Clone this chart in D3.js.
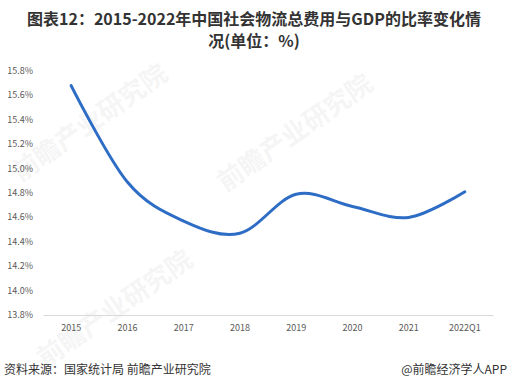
<!DOCTYPE html>
<html>
<head>
<meta charset="utf-8">
<script src="https://cdn.jsdelivr.net/npm/d3@7"></script>
<style>
  body { margin: 0; background: #fff; }
  svg { display: block; font-family: "Noto Sans CJK SC", "Noto Sans", sans-serif; }
</style>
</head>
<body>
<svg id="chart" width="509" height="388"></svg>
<script>
// data
const years = ["2015", "2016", "2017", "2018", "2019", "2020", "2021", "2022Q1"]
const ratio = [15.68, 14.89, 14.57, 14.47, 14.79, 14.69, 14.60, 14.81]
const yTicks = [13.8, 14.0, 14.2, 14.4, 14.6, 14.8, 15.0, 15.2, 15.4, 15.6, 15.8]

const svg = d3.select("#chart")

// title, two lines
svg.append("text")
    .attr("x", 254).attr("y", 25)
    .attr("text-anchor", "middle")
    .style("font-size", "16px").style("font-weight", "bold").style("fill", "#333")
    .text("图表12：2015-2022年中国社会物流总费用与GDP的比率变化情")
svg.append("text")
    .attr("x", 254).attr("y", 47)
    .attr("text-anchor", "middle")
    .style("font-size", "16px").style("font-weight", "bold").style("fill", "#333")
    .text("况(单位：%)")

// faint watermark
const wm = [[95, 130], [300, 140], [120, 316]]
wm.forEach(([x, y]) => {
    svg.append("text")
        .attr("transform", `translate(${x},${y}) rotate(-35)`)
        .attr("text-anchor", "middle")
        .style("font-size", "26px").style("font-weight", "bold")
        .style("fill", "#000").style("opacity", 0.035)
        .text("前瞻产业研究院")
})

const x = d3.scaleBand().domain(years).range([43, 493])
const y = d3.scaleLinear().domain([13.8, 15.8]).range([315, 71])

// y axis labels (no line)
svg.append("g").selectAll("text")
    .data(yTicks)
    .join("text")
    .attr("x", 33)
    .attr("y", d => y(d) + 3)
    .attr("text-anchor", "end")
    .style("font-size", "9px").style("fill", "#595959")
    .text(d => d.toFixed(1) + "%")

// x axis
const xAxis = svg.append("g")
    .attr("transform", "translate(0,315)")
    .call(d3.axisBottom(x).tickSize(0).tickPadding(10))
xAxis.select(".domain").attr("stroke", "#d9d9d9")
xAxis.selectAll("text")
    .style("font-size", "9px").style("fill", "#595959")
    .style("font-family", "\"Noto Sans CJK SC\", sans-serif")

// the line
const line = d3.line()
    .x((d, i) => x(years[i]) + x.bandwidth() / 2)
    .y(d => y(d))
    .curve(d3.curveCardinal.tension(0))

svg.append("path")
    .datum(ratio)
    .attr("d", line)
    .attr("fill", "none")
    .attr("stroke", "#2e6dc5")
    .attr("stroke-width", 3)
    .attr("stroke-linecap", "round")

// footer
svg.append("text")
    .attr("x", 4).attr("y", 374)
    .style("font-size", "12px").style("fill", "#333")
    .text("资料来源：国家统计局 前瞻产业研究院")
svg.append("text")
    .attr("x", 507).attr("y", 374)
    .attr("text-anchor", "end")
    .style("font-size", "12px").style("fill", "#333")
    .text("@前瞻经济学人APP")
</script>
</body>
</html>
